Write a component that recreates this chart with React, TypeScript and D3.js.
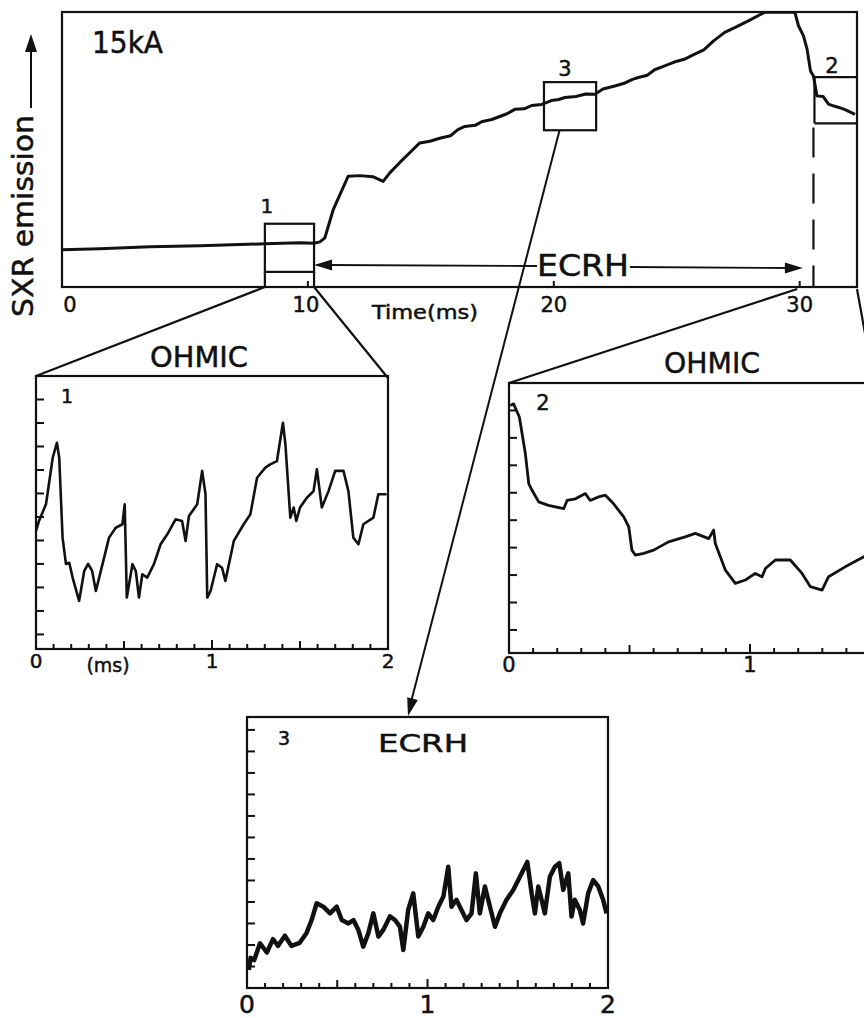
import React from "react";
import * as d3 from "d3";

// Overview trace: time in ms, SXR signal in arbitrary units (frame top = 10)
const mainTime = [
  0, 1.54, 3.58, 5.61, 8.25, 9.67, 10.24, 10.49, 10.69, 11.03, 11.64, 12.11, 12.64, 13.06,
  13.33, 13.74, 14.15, 14.55, 14.96, 15.4, 15.8, 16.1, 16.38, 16.8, 17.1, 17.48, 17.8, 18.1,
  18.41, 18.8, 19.1, 19.51, 19.9, 20.2, 20.45, 20.9, 21.3, 21.67, 22.0, 22.48, 22.9, 23.2,
  23.44, 23.8, 24.1, 24.51, 24.9, 25.3, 25.73, 26.1, 26.5, 26.95, 27.4, 27.91, 28.58, 29.8,
  29.95, 30.15, 30.3, 30.44, 30.56, 30.7, 30.95, 31.17, 31.4, 31.8, 32.25,
];
const mainSignal = [
  1.35, 1.39, 1.46, 1.5, 1.57, 1.61, 1.59, 1.64, 1.79, 2.81, 4.03, 4.05, 4.01, 3.84,
  4.15, 4.53, 4.89, 5.24, 5.3, 5.42, 5.5, 5.72, 5.84, 5.88, 6.02, 6.09, 6.2, 6.3,
  6.46, 6.48, 6.6, 6.64, 6.78, 6.82, 6.89, 6.93, 7.02, 7.01, 7.2, 7.31, 7.42, 7.55,
  7.62, 7.7, 7.9, 8.04, 8.18, 8.28, 8.47, 8.62, 8.95, 9.26, 9.45, 9.68, 9.99, 10.0,
  9.5, 9.14, 8.65, 7.85, 7.67, 6.95, 6.93, 6.65, 6.58, 6.47, 6.28,
];
const mainTicks = [10, 20, 30];
const mainTickLabels = ["0", "10", "20", "30"];

// Zoomed windows (2 ms each): start time and signal band in overview units
const windowIds = ["1", "3", "2"];
const windowStart = [8.25, 19.6, 30.6];
const windowLow = [0.55, 5.7, 5.95];
const windowHigh = [2.3, 7.45, 7.63];

// Window 1 — ohmic phase
const ohmic1Time = [
  0, 0.017, 0.057, 0.095, 0.119, 0.132, 0.151, 0.17, 0.189, 0.208, 0.245, 0.274, 0.296, 0.319,
  0.34, 0.359, 0.415, 0.453, 0.491, 0.504, 0.516, 0.548, 0.567, 0.585, 0.604, 0.632, 0.67, 0.708,
  0.746, 0.793, 0.83, 0.85, 0.869, 0.916, 0.944, 0.963, 0.973, 0.992, 1.029, 1.057, 1.076, 1.124,
  1.18, 1.218, 1.256, 1.303, 1.331, 1.369, 1.403, 1.417, 1.445, 1.464, 1.479, 1.5, 1.539, 1.577,
  1.596, 1.624, 1.662, 1.7, 1.747, 1.775, 1.803, 1.832, 1.86, 1.917, 1.945, 1.992,
];
const ohmic1Signal = [
  5.4, 5.83, 6.55, 8.52, 9.16, 8.52, 5.12, 4.0, 4.05, 3.42, 2.43, 3.7, 4.0, 3.7,
  2.85, 3.42, 5.12, 5.54, 5.69, 6.54, 2.57, 3.99, 3.7, 2.57, 3.56, 3.42, 3.99, 4.84,
  5.26, 5.9, 5.83, 4.98, 6.04, 6.54, 7.96, 6.97, 2.57, 2.85, 3.99, 3.84, 3.28, 4.98,
  5.69, 6.11, 7.67, 8.1, 8.24, 8.38, 10.01, 9.1, 5.97, 6.4, 5.83, 6.4, 6.82, 7.1,
  8.03, 6.4, 7.1, 7.96, 7.96, 7.1, 5.12, 4.84, 5.69, 5.97, 6.97, 6.97,
];

// Window 2 — after ECRH switch-off
const ohmic2Time = [
  0.005, 0.019, 0.043, 0.068, 0.082, 0.095, 0.123, 0.164, 0.227, 0.241, 0.276, 0.317, 0.337, 0.372,
  0.4, 0.434, 0.476, 0.497, 0.51, 0.524, 0.559, 0.6, 0.662, 0.731, 0.773, 0.829, 0.849, 0.856,
  0.898, 0.939, 0.981, 1.022, 1.05, 1.064, 1.105, 1.167, 1.216, 1.25, 1.299, 1.326, 1.395, 1.473, 1.52,
];
const ohmic2Signal = [
  9.18, 9.24, 8.76, 7.42, 6.33, 6.1, 5.67, 5.54, 5.42, 5.72, 5.78, 5.97, 5.72, 5.85,
  5.91, 5.6, 5.12, 4.76, 3.91, 3.73, 3.79, 3.91, 4.21, 4.39, 4.52, 4.33, 4.64, 4.15,
  3.18, 2.7, 2.82, 3.06, 2.94, 3.24, 3.55, 3.55, 3.06, 2.58, 2.45, 2.94, 3.3, 3.67, 3.8,
];

// Window 3 — during ECRH
const ecrhTime = [
  0.01, 0.02, 0.04, 0.072, 0.11, 0.144, 0.172, 0.21, 0.246, 0.292, 0.33, 0.358, 0.386, 0.423,
  0.46, 0.497, 0.525, 0.562, 0.59, 0.617, 0.644, 0.672, 0.7, 0.728, 0.755, 0.792, 0.82, 0.847,
  0.866, 0.893, 0.921, 0.949, 0.977, 1.004, 1.032, 1.06, 1.088, 1.115, 1.133, 1.16, 1.188, 1.216,
  1.244, 1.268, 1.29, 1.318, 1.346, 1.374, 1.401, 1.438, 1.475, 1.503, 1.53, 1.553, 1.577, 1.595,
  1.614, 1.632, 1.65, 1.678, 1.706, 1.73, 1.752, 1.78, 1.798, 1.816, 1.844, 1.862, 1.89, 1.918,
  1.946, 1.973, 1.992,
];
const ecrhSignal = [
  0.84, 1.4, 1.3, 2.08, 1.65, 2.27, 1.96, 2.43, 1.96, 2.1, 2.56, 3.16, 3.94, 3.78,
  3.47, 3.78, 3.16, 3.0, 3.16, 2.7, 1.92, 2.54, 3.47, 2.39, 2.7, 3.33, 3.16, 2.85,
  1.77, 3.63, 4.4, 2.39, 2.85, 3.47, 3.16, 3.78, 4.25, 5.64, 3.78, 4.1, 3.63, 3.16,
  3.47, 5.33, 3.47, 4.72, 3.78, 2.85, 3.47, 4.1, 4.56, 5.02, 5.48, 5.86, 4.4, 3.47,
  4.72, 4.1, 3.47, 5.17, 5.64, 5.8, 4.56, 5.33, 3.32, 4.1, 3.63, 3.0, 4.4, 5.02,
  4.72, 4.1, 3.47,
];
const zoomTickLabels = ["0", "1", "2"];

const W = 864;
const H = 1018;
const FONT = "'DejaVu Sans', 'Liberation Sans', sans-serif";
const INK = "#111";
// light outline on glyphs to give the heavier, inked look of the lettering
const textInk = { fill: INK, stroke: INK, strokeWidth: 0.5 };

const main = { left: 62, right: 857, top: 12, bottom: 287 };
const xMain = d3.scaleLinear().domain([0, 32.33]).range([main.left, main.right]);
const yMain = d3.scaleLinear().domain([0, 10]).range([main.bottom, main.top]);

type PanelProps = {
  id: string;
  left: number;
  width: number;
  top: number;
  bottom: number;
  yDomain: [number, number];
  yTicks: number[];
  time: number[];
  signal: number[];
  strokeWidth: number;
};

function arrowHead(tipX: number, tipY: number, fromX: number, fromY: number, len: number, half: number) {
  const dx = tipX - fromX;
  const dy = tipY - fromY;
  const d = Math.hypot(dx, dy);
  const ux = dx / d;
  const uy = dy / d;
  const bx = tipX - ux * len;
  const by = tipY - uy * len;
  return `M${tipX},${tipY}L${bx - uy * half},${by + ux * half}L${bx + uy * half},${by - ux * half}Z`;
}

function ZoomPanel(p: PanelProps) {
  const x = d3.scaleLinear().domain([0, 2]).range([p.left, p.left + p.width]);
  const y = d3.scaleLinear().domain(p.yDomain).range([p.bottom, p.top]);
  const line = d3
    .line<number>()
    .x((_, i) => x(p.time[i]))
    .y((v) => y(v));
  const minor = d3.range(0, 21).map((k) => k / 10);
  const clip = `clip-${p.id}`;
  return (
    <g>
      <defs>
        <clipPath id={clip}>
          <rect x={p.left} y={p.top} width={p.width} height={p.bottom - p.top} />
        </clipPath>
      </defs>
      <g clipPath={`url(#${clip})`}>
        <path
          d={line(p.signal) || ""}
          fill="none"
          stroke={INK}
          strokeWidth={p.strokeWidth}
          strokeLinejoin="round"
        />
      </g>
      {minor.map((t) => {
        const k = Math.round(t * 10);
        const len = k % 10 === 0 ? 9 : k % 5 === 0 ? 8 : 5;
        return (
          <line
            key={`xt${k}`}
            x1={x(t)}
            x2={x(t)}
            y1={p.bottom}
            y2={p.bottom - len}
            stroke={INK}
            strokeWidth={2}
          />
        );
      })}
      {p.yTicks.map((v) => (
        <line key={`yt${v}`} x1={p.left} x2={p.left + 8} y1={y(v)} y2={y(v)} stroke={INK} strokeWidth={2} />
      ))}
      <rect
        x={p.left}
        y={p.top}
        width={p.width}
        height={p.bottom - p.top}
        fill="none"
        stroke={INK}
        strokeWidth={2.2}
      />
    </g>
  );
}

export default function App() {
  const mainLine = d3
    .line<number>()
    .x((_, i) => xMain(mainTime[i]))
    .y((v) => yMain(v));

  const p1 = { left: 36, width: 352, top: 376, bottom: 649 };
  const p2 = { left: 509, width: 482, top: 383, bottom: 653 };
  const p3 = { left: 247, width: 361, top: 717, bottom: 988 };
  const x3 = d3.scaleLinear().domain([0, 2]).range([p3.left, p3.left + p3.width]);
  const x1 = d3.scaleLinear().domain([0, 2]).range([p1.left, p1.left + p1.width]);
  const x2 = d3.scaleLinear().domain([0, 2]).range([p2.left, p2.left + p2.width]);

  const win = windowIds.map((id, i) => ({
    id,
    x0: xMain(windowStart[i]),
    x1: Math.min(xMain(windowStart[i] + 2), main.right),
    yTop: yMain(windowHigh[i]),
    yBot: yMain(windowLow[i]),
  }));
  const [w1, w3, w2] = win;

  const arrowFrom = { x: (w3.x0 + w3.x1) / 2 - 9, y: w3.yBot };
  const arrowTip = { x: 408, y: p3.top - 1 };

  const ecrhY = 265;
  const ecrhLeft = w1.x1;
  const ecrhRight = xMain(30.13);

  return (
    <div>
      <style>{`body{margin:0;overflow:hidden;background:#fff}`}</style>
      <svg width={W} height={H} viewBox={`0 0 ${W} ${H}`} style={{ display: "block", background: "#fff" }}>
        <defs>
          <clipPath id="clip-main">
            <rect x={main.left} y={main.top} width={main.right - main.left} height={main.bottom - main.top} />
          </clipPath>
        </defs>

        {/* overview frame and trace */}
        <g clipPath="url(#clip-main)">
          <path d={mainLine(mainSignal) || ""} fill="none" stroke={INK} strokeWidth={3} strokeLinejoin="round" />
        </g>
        <rect
          x={main.left}
          y={main.top}
          width={main.right - main.left}
          height={main.bottom - main.top}
          fill="none"
          stroke={INK}
          strokeWidth={2.2}
        />
        {mainTicks.map((t) => (
          <line key={t} x1={xMain(t)} x2={xMain(t)} y1={main.bottom} y2={main.bottom - 6} stroke={INK} strokeWidth={2} />
        ))}
        {mainTickLabels.map((s, i) => (
          <text
            key={s}
            x={xMain(i * 10) + (i === 0 ? 8 : i === 1 ? -2 : 0)}
            y={312}
            fontFamily={FONT}
            fontSize={21}
            textAnchor="middle"
            {...textInk}
          >
            {s}
          </text>
        ))}
        <text x={372} y={319} fontFamily={FONT} fontSize={19} {...textInk} textLength={106} lengthAdjust="spacingAndGlyphs">
          Time(ms)
        </text>
        <text x={92} y={53} fontFamily={FONT} fontSize={30} {...textInk} textLength={71} lengthAdjust="spacingAndGlyphs">
          15kA
        </text>

        {/* axis title */}
        <text
          transform="translate(33,317) rotate(-90)"
          fontFamily={FONT}
          fontSize={28}
          {...textInk}
          textLength={202}
          lengthAdjust="spacingAndGlyphs"
        >
          SXR emission
        </text>
        <line x1={31} x2={31} y1={108} y2={50} stroke={INK} strokeWidth={2} />
        <path d={arrowHead(31, 34, 31, 60, 18, 6)} fill={INK} />

        {/* zoom windows on the overview */}
        <rect x={w1.x0} y={w1.yTop} width={w1.x1 - w1.x0} height={w1.yBot - w1.yTop} fill="none" stroke={INK} strokeWidth={2.2} />
        <line x1={w1.x0} x2={w1.x0} y1={w1.yBot} y2={main.bottom} stroke={INK} strokeWidth={2.2} />
        <line x1={w1.x1} x2={w1.x1} y1={w1.yBot} y2={main.bottom} stroke={INK} strokeWidth={2.2} />
        <text x={w1.x0 + 2} y={213} fontFamily={FONT} fontSize={20} textAnchor="middle" {...textInk}>
          {w1.id}
        </text>

        <rect x={w3.x0} y={w3.yTop} width={w3.x1 - w3.x0 + 3} height={w3.yBot - w3.yTop} fill="none" stroke={INK} strokeWidth={2.2} />
        <text x={565} y={76} fontFamily={FONT} fontSize={21} textAnchor="middle" {...textInk}>
          {w3.id}
        </text>

        <line x1={w2.x0} x2={main.right} y1={w2.yTop} y2={w2.yTop} stroke={INK} strokeWidth={2.2} />
        <line x1={w2.x0} x2={main.right} y1={w2.yBot} y2={w2.yBot} stroke={INK} strokeWidth={2.2} />
        <line x1={w2.x0} x2={w2.x0} y1={w2.yTop} y2={w2.yBot} stroke={INK} strokeWidth={2.2} />
        <line
          x1={w2.x0 - 1}
          x2={w2.x0 - 1}
          y1={w2.yBot}
          y2={main.bottom}
          stroke={INK}
          strokeWidth={2.2}
          strokeDasharray="30 16"
          strokeDashoffset={-4}
        />
        <text x={832} y={73} fontFamily={FONT} fontSize={21} textAnchor="middle" {...textInk}>
          {w2.id}
        </text>

        {/* ECRH interval */}
        <line x1={ecrhLeft + 12} x2={537} y1={ecrhY} y2={ecrhY + 1} stroke={INK} strokeWidth={1.8} />
        <path d={arrowHead(ecrhLeft, ecrhY, ecrhLeft + 20, ecrhY, 18, 5.5)} fill={INK} />
        <text x={537} y={276} fontFamily={FONT} fontSize={30} {...textInk} textLength={92} lengthAdjust="spacingAndGlyphs">
          ECRH
        </text>
        <line x1={630} x2={ecrhRight - 12} y1={ecrhY + 2} y2={ecrhY + 3} stroke={INK} strokeWidth={1.8} />
        <path d={arrowHead(ecrhRight, ecrhY + 3, ecrhRight - 20, ecrhY + 3, 18, 5.5)} fill={INK} />

        {/* connectors to the zoomed panels */}
        <line x1={w1.x0} y1={main.bottom} x2={p1.left} y2={p1.top} stroke={INK} strokeWidth={2.2} />
        <line x1={w1.x1} y1={main.bottom} x2={p1.left + p1.width} y2={p1.top + 2} stroke={INK} strokeWidth={2.2} />
        <line x1={xMain(29.9)} y1={main.bottom + 2} x2={p2.left} y2={p2.top} stroke={INK} strokeWidth={2.2} />
        <line x1={main.right} y1={main.bottom + 2} x2={main.right + 17} y2={p2.top} stroke={INK} strokeWidth={2.2} />
        <line x1={arrowFrom.x} y1={arrowFrom.y} x2={arrowTip.x + 3} y2={arrowTip.y - 14} stroke={INK} strokeWidth={2} />
        <path d={arrowHead(arrowTip.x, arrowTip.y, arrowFrom.x, arrowFrom.y, 18, 5.5)} fill={INK} />

        {/* panel 1 */}
        <ZoomPanel
          id="p1"
          {...p1}
          yDomain={[0.38, 12]}
          yTicks={d3.range(1, 12)}
          time={ohmic1Time}
          signal={ohmic1Signal}
          strokeWidth={2.6}
        />
        <text x={199} y={367} fontFamily={FONT} fontSize={29} textAnchor="middle" {...textInk} textLength={98} lengthAdjust="spacingAndGlyphs">
          OHMIC
        </text>
        <text x={67} y={403} fontFamily={FONT} fontSize={19} textAnchor="middle" {...textInk}>
          1
        </text>
        {zoomTickLabels.map((s, i) => (
          <text key={s} x={x1(i)} y={668} fontFamily={FONT} fontSize={20} textAnchor="middle" {...textInk}>
            {s}
          </text>
        ))}
        <text x={108} y={672} fontFamily={FONT} fontSize={19} textAnchor="middle" {...textInk}>
          (ms)
        </text>

        {/* panel 2 */}
        <ZoomPanel
          id="p2"
          {...p2}
          yDomain={[0.16, 10]}
          yTicks={d3.range(1, 10)}
          time={ohmic2Time}
          signal={ohmic2Signal}
          strokeWidth={2.8}
        />
        <text x={712} y={373} fontFamily={FONT} fontSize={29} textAnchor="middle" {...textInk} textLength={96} lengthAdjust="spacingAndGlyphs">
          OHMIC
        </text>
        <text x={543} y={410} fontFamily={FONT} fontSize={21} textAnchor="middle" {...textInk}>
          2
        </text>
        {zoomTickLabels.slice(0, 2).map((s, i) => (
          <text key={s} x={x2(i)} y={672} fontFamily={FONT} fontSize={21} textAnchor="middle" {...textInk}>
            {s}
          </text>
        ))}

        {/* panel 3 */}
        <ZoomPanel
          id="p3"
          {...p3}
          yDomain={[0, 12.6]}
          yTicks={d3.range(1, 13)}
          time={ecrhTime}
          signal={ecrhSignal}
          strokeWidth={4.5}
        />
        <text x={284} y={745} fontFamily={FONT} fontSize={19} textAnchor="middle" {...textInk}>
          3
        </text>
        <text x={378} y={752} fontFamily={FONT} fontSize={25} {...textInk} textLength={90} lengthAdjust="spacingAndGlyphs">
          ECRH
        </text>
        {zoomTickLabels.map((s, i) => (
          <text key={s} x={x3(i)} y={1013} fontFamily={FONT} fontSize={25} textAnchor="middle" {...textInk}>
            {s}
          </text>
        ))}
      </svg>
    </div>
  );
}
